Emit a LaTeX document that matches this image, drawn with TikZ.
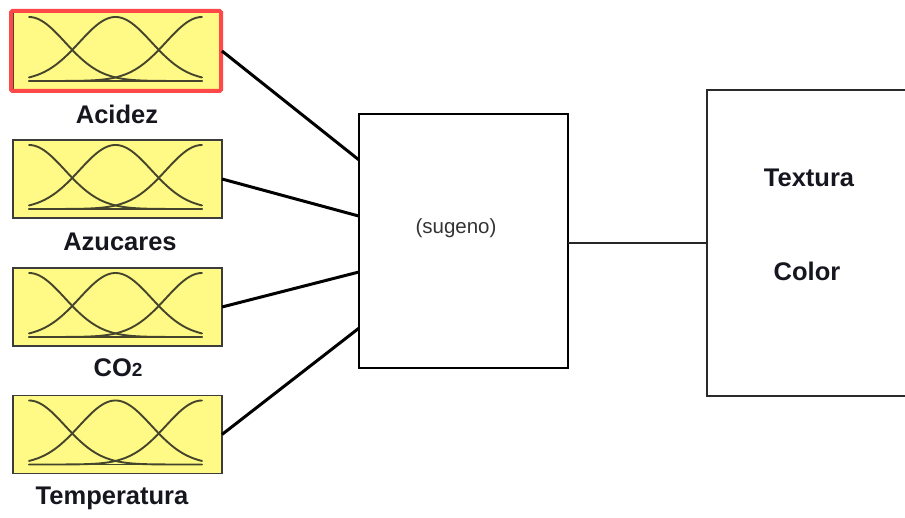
\documentclass[tikz,border=0pt]{standalone}
\usepackage{fontspec}
\setmainfont{Liberation Sans}
\usetikzlibrary{calc}
\definecolor{mfyellow}{HTML}{FFFA86}
\definecolor{boxgray}{HTML}{3C3C3C}
\definecolor{curvecol}{HTML}{45452E}
\definecolor{labelink}{HTML}{16161F}
\definecolor{selred}{HTML}{FF4848}
\definecolor{frame}{HTML}{2A2A2A}

% three gaussian membership functions inside an input block
\newcommand{\mfcurves}[1]{%
  \begin{scope}[shift={(#1.north west)}]
    \draw[mf] (16,69) -- (189,69);
    \foreach \c in {16,102.5,189}{
      \draw[mf] plot[domain=16:189, samples=70, smooth]
        (\x, {69-64*exp(-0.5*((\x-\c)/36)^2)});
    }
  \end{scope}}

\begin{document}
\begin{tikzpicture}[x=1pt,y=-1pt,
  inbox/.style={draw=boxgray, line width=1.5pt, fill=mfyellow,
    minimum width=209pt, minimum height=78pt, inner sep=0pt, outer sep=0pt},
  lbl/.style={font=\bfseries\fontsize{25.5}{30}\selectfont, text=labelink, inner sep=0pt},
  outlbl/.style={font=\bfseries\fontsize{25.5}{30}\selectfont, text=labelink, inner sep=0pt},
  wire/.style={line width=3pt, black},
  mf/.style={line width=1.9pt, curvecol, line join=round, line cap=round}]
\useasboundingbox (0,0) rectangle (905,518);
\clip (0,0) rectangle (905,518);

% input blocks
\node[inbox] (in1) at (117.5,51) {};
\node[inbox] (in2) at (117.5,179) {};
\node[inbox] (in3) at (117.5,307) {};
\node[inbox] (in4) at (117.5,434.5) {};
\mfcurves{in1}
\mfcurves{in2}
\mfcurves{in3}
\mfcurves{in4}
\draw[selred, line width=4pt, rounded corners=1.5pt]
  ($(in1.north west)+(-2,-1)$) rectangle ($(in1.south east)+(-1,1)$);

% input names
\node[lbl] (l1) at (117,114) {Acidez};
\node[lbl] (l2) at (120,242) {Azucares};
\node[lbl] (l3) at (118,368) {CO{\fontsize{19}{22}\selectfont 2}};
\node[lbl] (l4) at (112,498) {Temperatura};

% inference system
\node[draw=black, line width=2.8pt, minimum width=209pt, minimum height=254pt,
  inner sep=0pt, outer sep=0pt] (sug) at (463.5,241) {};
\node[font=\fontsize{20.5}{24}\selectfont, text=black!80, inner sep=0pt] (sugtxt) at (456,228) {(sugeno)};

% output block
\node[draw=frame, line width=2pt, minimum width=230pt, minimum height=306pt,
  inner sep=0pt, outer sep=0pt] (out) at (822,243) {};
\node[outlbl] (o1) at (809,178) {Textura};
\node[outlbl] (o2) at (807,271) {Color};

% connectors
\draw[wire] (in1.east) -- ($(sug.north west)!0.181!(sug.south west)$);
\draw[wire] (in2.east) -- ($(sug.north west)!0.402!(sug.south west)$);
\draw[wire] (in3.east) -- ($(sug.north west)!0.622!(sug.south west)$);
\draw[wire] (in4.east) -- ($(sug.north west)!0.843!(sug.south west)$);
\draw[line width=2.8pt, black!85] (out.west -| sug.east) -- (out.west);
\end{tikzpicture}
\end{document}
